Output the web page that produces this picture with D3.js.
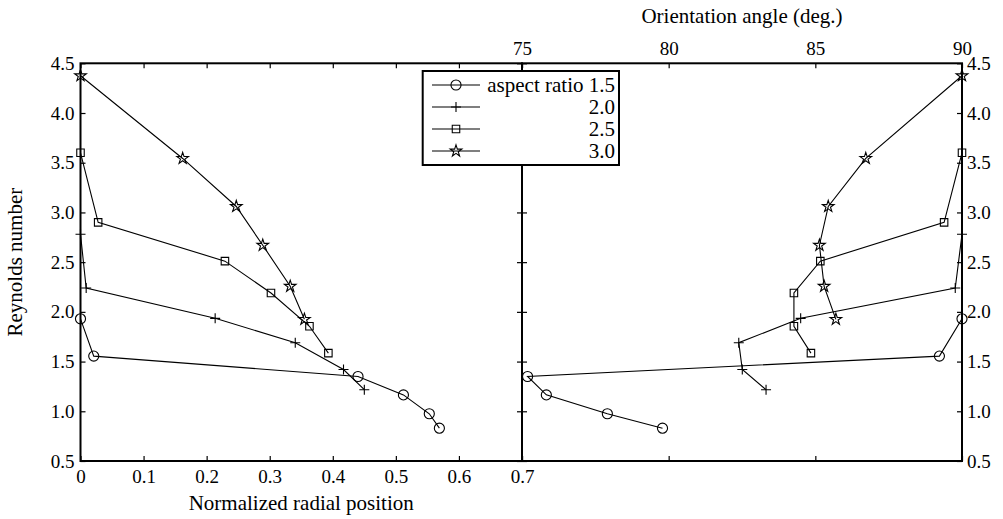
<!DOCTYPE html>
<html>
<head>
<meta charset="utf-8">
<script src="https://cdn.jsdelivr.net/npm/d3@7"></script>
</head>
<body style="margin:0;background:#fff">
<svg id="chart" width="1003" height="519" style="display:block"></svg>
<script>
// ---- data ----
const seriesNames = ["aspect ratio 1.5", "2.0", "2.5", "3.0"];
const markerTypes = ["circle", "plus", "square", "star"];

// Reynolds number for each point of each series
const reynolds15 = [1.93, 1.555, 1.35, 1.165, 0.975, 0.83];
const reynolds20 = [2.78, 2.24, 1.935, 1.69, 1.42, 1.217];
const reynolds25 = [3.6, 2.9, 2.51, 2.19, 1.855, 1.585];
const reynolds30 = [4.375, 3.543, 3.06, 2.67, 2.257, 1.925];

// Normalized radial position (left panel)
const radial15 = [0, 0.021, 0.44, 0.512, 0.553, 0.569];
const radial20 = [0, 0.009, 0.2135, 0.3405, 0.417, 0.45];
const radial25 = [0, 0.028, 0.229, 0.302, 0.363, 0.393];
const radial30 = [0, 0.162, 0.247, 0.289, 0.3325, 0.355];

// Orientation angle in degrees (right panel)
const angle15 = [90, 89.23, 75.19, 75.83, 77.91, 79.79];
const angle20 = [90, 89.77, 84.5, 82.39, 82.51, 83.32];
const angle25 = [90, 89.39, 85.17, 84.27, 84.27, 84.85];
const angle30 = [90, 86.72, 85.44, 85.14, 85.3, 85.7];

const radialTicks = [0, 0.1, 0.2, 0.3, 0.4, 0.5, 0.6, 0.7];
const angleTicks = [75, 80, 85, 90];
const reynoldsTicks = [0.5, 1.0, 1.5, 2.0, 2.5, 3.0, 3.5, 4.0, 4.5];

const reynoldsAll = [reynolds15, reynolds20, reynolds25, reynolds30];
const radialAll = [radial15, radial20, radial25, radial30];
const angleAll = [angle15, angle20, angle25, angle30];

// ---- layout ----
const FONT = "Liberation Serif";
const svg = d3.select("#chart");
const pLeft = 80.5, pMid = 522, pRight = 962, pTop = 63.3, pBottom = 461;
const tickFont = 19, labelFont = 21;

const xL = d3.scaleLinear().domain([0, 0.7]).range([pLeft, pMid]);
const xR = d3.scaleLinear().domain([75, 90]).range([pMid, pRight]);
const y = d3.scaleLinear().domain([0.5, 4.5]).range([pBottom, pTop]);

function styleAxis(g, showLabels) {
  g.attr("font-family", FONT);
  g.select(".domain").remove();
  g.selectAll(".tick line").attr("stroke", "#000").attr("stroke-width", 1.2);
  g.selectAll("text").attr("font-size", tickFont).attr("fill", "#000").attr("font-family", FONT);
  if (!showLabels) g.selectAll("text").remove();
}

// Left panel axes
svg.append("g").attr("transform", `translate(0,${pBottom})`)
  .call(d3.axisBottom(xL).tickValues(radialTicks).tickSizeInner(-5).tickSizeOuter(0).tickPadding(8.5)
    .tickFormat(d => d === 0 ? "0" : d3.format(".1f")(d)))
  .call(g => styleAxis(g, true));
svg.append("g").attr("transform", `translate(0,${pTop})`)
  .call(d3.axisTop(xL).tickValues(radialTicks).tickSizeInner(-5).tickSizeOuter(0))
  .call(g => styleAxis(g, false));
svg.append("g").attr("transform", `translate(${pLeft},0)`)
  .call(d3.axisLeft(y).tickValues(reynoldsTicks).tickSizeInner(-5).tickSizeOuter(0).tickPadding(6)
    .tickFormat(d3.format(".1f")))
  .call(g => styleAxis(g, true));
svg.append("g").attr("transform", `translate(${pMid},0)`)
  .call(d3.axisRight(y).tickValues(reynoldsTicks).tickSizeInner(-5).tickSizeOuter(0))
  .call(g => styleAxis(g, false));

// Right panel axes
svg.append("g").attr("transform", `translate(0,${pTop})`)
  .call(d3.axisTop(xR).tickValues(angleTicks).tickSizeInner(-5).tickSizeOuter(0).tickPadding(8))
  .call(g => styleAxis(g, true));
svg.append("g").attr("transform", `translate(0,${pBottom})`)
  .call(d3.axisBottom(xR).tickValues(angleTicks).tickSizeInner(-5).tickSizeOuter(0))
  .call(g => styleAxis(g, false));
svg.append("g").attr("transform", `translate(${pRight},0)`)
  .call(d3.axisRight(y).tickValues(reynoldsTicks).tickSizeInner(-5).tickSizeOuter(0).tickPadding(5)
    .tickFormat(d3.format(".1f")))
  .call(g => styleAxis(g, true));
svg.append("g").attr("transform", `translate(${pMid},0)`)
  .call(d3.axisLeft(y).tickValues(reynoldsTicks).tickSizeInner(-5).tickSizeOuter(0))
  .call(g => styleAxis(g, false));

// Frames
svg.append("rect").attr("x", pLeft).attr("y", pTop).attr("width", pMid - pLeft).attr("height", pBottom - pTop)
  .attr("fill", "none").attr("stroke", "#000").attr("stroke-width", 2);
svg.append("rect").attr("x", pMid).attr("y", pTop).attr("width", pRight - pMid).attr("height", pBottom - pTop)
  .attr("fill", "none").attr("stroke", "#000").attr("stroke-width", 2);

// Axis titles
svg.append("text").attr("x", (pLeft + pMid) / 2).attr("y", 510).attr("text-anchor", "middle")
  .attr("font-family", FONT).attr("font-size", labelFont).text("Normalized radial position");
svg.append("text").attr("x", (pMid + pRight) / 2).attr("y", 22.5).attr("text-anchor", "middle")
  .attr("font-family", FONT).attr("font-size", labelFont).text("Orientation angle (deg.)");
svg.append("text").attr("transform", `translate(22,${(pTop + pBottom) / 2}) rotate(-90)`)
  .attr("text-anchor", "middle").attr("font-family", FONT).attr("font-size", labelFont).text("Reynolds number");

// Markers
function markerPath(type) {
  if (type === "circle") return d3.symbol(d3.symbolCircle, 80)();
  if (type === "square") return d3.symbol(d3.symbolSquare, 56)();
  if (type === "star") return d3.symbol(d3.symbolStar, 42)();
  return "M-5,0H5M0,-5V5";
}

const line = d3.line();
function drawSeries(xScale, xsAll) {
  const g = svg.append("g");
  xsAll.forEach((xs, i) => {
    const pts = xs.map((v, j) => [xScale(v), y(reynoldsAll[i][j])]);
    g.append("path").attr("d", line(pts)).attr("fill", "none").attr("stroke", "#000").attr("stroke-width", 1.1);
    g.selectAll(null).data(pts).enter().append("path")
      .attr("transform", d => `translate(${d[0]},${d[1]})`)
      .attr("d", markerPath(markerTypes[i]))
      .attr("fill", "none").attr("stroke", "#000").attr("stroke-width", 1.1);
  });
}
drawSeries(xL, radialAll);
drawSeries(xR, angleAll);

// Legend
const lg = svg.append("g");
lg.append("rect").attr("x", 422.7).attr("y", 71).attr("width", 619 - 422.7).attr("height", 165 - 71)
  .attr("fill", "#fff").attr("stroke", "#000").attr("stroke-width", 2);
seriesNames.forEach((name, i) => {
  const ly = 85 + 22 * i;
  lg.append("line").attr("x1", 432).attr("x2", 480).attr("y1", ly).attr("y2", ly)
    .attr("stroke", "#000").attr("stroke-width", 1.1);
  lg.append("path").attr("transform", `translate(456,${ly})`).attr("d", markerPath(markerTypes[i]))
    .attr("fill", "none").attr("stroke", "#000").attr("stroke-width", 1.1);
  lg.append("text").attr("x", 615).attr("y", ly).attr("dy", "0.33em").attr("text-anchor", "end")
    .attr("font-family", FONT).attr("font-size", labelFont).text(name);
});
</script>
</body>
</html>
